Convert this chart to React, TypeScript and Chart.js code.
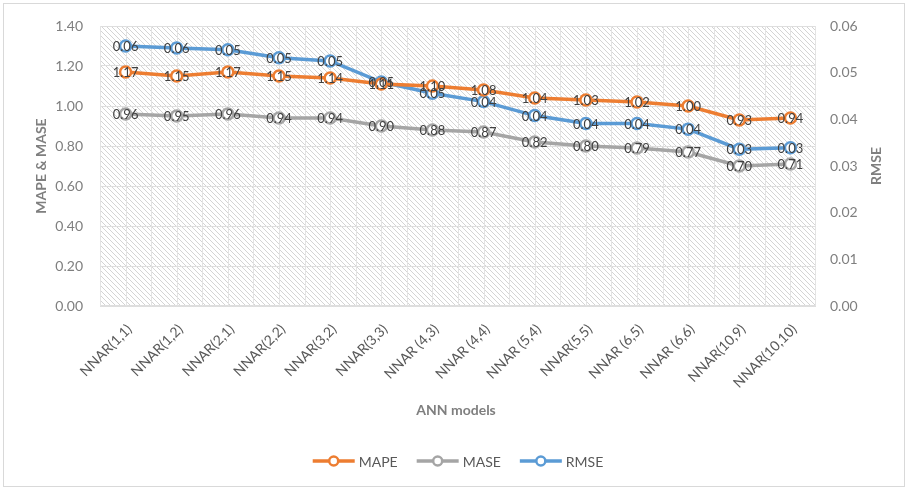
import { useEffect, useRef } from "react";
import { Chart, registerables } from "chart.js";

Chart.register(...registerables);

const categories = [
  "NNAR(1,1)", "NNAR(1,2)", "NNAR(2,1)", "NNAR(2,2)", "NNAR(3,2)", "NNAR(3,3)", "NNAR (4,3)",
  "NNAR (4,4)", "NNAR (5,4)", "NNAR(5,5)", "NNAR (6,5)", "NNAR (6,6)", "NNAR(10,9)", "NNAR(10,10)",
];
const mapeValues = [1.17, 1.15, 1.17, 1.15, 1.14, 1.11, 1.10, 1.08, 1.04, 1.03, 1.02, 1.00, 0.93, 0.94];
const maseValues = [0.96, 0.95, 0.96, 0.94, 0.94, 0.90, 0.88, 0.87, 0.82, 0.80, 0.79, 0.77, 0.70, 0.71];
const rmseValues = [0.0557, 0.0553, 0.0549, 0.0532, 0.0525, 0.048, 0.0456, 0.0438, 0.0408, 0.0391, 0.0391, 0.0379, 0.0336, 0.0339];
const seriesNames = ["MAPE", "MASE", "RMSE"];
const seriesColors = ["#ED7D31", "#A5A5A5", "#5B9BD5"];
const leftTitle = "MAPE & MASE";
const rightTitle = "RMSE";
const xTitle = "ANN models";

const FONT = "Lato, 'Open Sans', sans-serif";

function makePattern(ctx: CanvasRenderingContext2D) {
  const s = 5;
  const c = document.createElement("canvas");
  c.width = s;
  c.height = s;
  const p = c.getContext("2d")!;
  p.fillStyle = "#ffffff";
  p.fillRect(0, 0, s, s);
  p.strokeStyle = "#d4d4d4";
  p.lineWidth = 1;
  p.beginPath();
  p.moveTo(-1, -1);
  p.lineTo(s + 1, s + 1);
  p.moveTo(-1, s - 1);
  p.lineTo(1, s + 1);
  p.moveTo(s - 1, -1);
  p.lineTo(s + 1, 1);
  p.stroke();
  return ctx.createPattern(c, "repeat")!;
}

const decorPlugin = {
  id: "decor",
  beforeDraw(chart: any) {
    const { ctx, chartArea: a, width, height } = chart;
    ctx.save();
    ctx.fillStyle = "#ffffff";
    ctx.fillRect(0, 0, width, height);
    ctx.strokeStyle = "#d9d9d9";
    ctx.lineWidth = 1;
    ctx.strokeRect(3.5, 3.5, width - 7, height - 7);
    ctx.fillStyle = makePattern(ctx);
    ctx.fillRect(a.left, a.top, a.right - a.left, a.bottom - a.top);
    ctx.restore();
  },
  beforeDatasetsDraw(chart: any) {
    const { ctx, chartArea: a, scales } = chart;
    const xs = scales.x;
    const n = categories.length;
    const step = (a.right - a.left) / n;
    ctx.save();
    ctx.strokeStyle = "#e3e3e3";
    ctx.lineWidth = 1;
    ctx.beginPath();
    for (let i = 0; i < n; i++) {
      const c = xs.getPixelForValue(i);
      for (const x of [c - step / 2, c]) {
        const px = Math.round(x) + 0.5;
        ctx.moveTo(px, a.top);
        ctx.lineTo(px, a.bottom);
      }
    }
    const last = Math.round(xs.getPixelForValue(n - 1) + step / 2) - 0.5;
    ctx.moveTo(last, a.top);
    ctx.lineTo(last, a.bottom);
    ctx.stroke();
    ctx.restore();
  },
  afterDatasetsDraw(chart: any) {
    const { ctx } = chart;
    ctx.save();
    ctx.font = `13px ${FONT}`;
    ctx.fillStyle = "#404040";
    ctx.textAlign = "center";
    ctx.textBaseline = "middle";
    chart.data.datasets.forEach((ds: any, di: number) => {
      const meta = chart.getDatasetMeta(di);
      meta.data.forEach((pt: any, i: number) => {
        ctx.fillText(Number(ds.data[i]).toFixed(2), pt.x, pt.y + 1);
      });
    });
    ctx.restore();
  },
  afterDraw(chart: any) {
    const { ctx, chartArea: a } = chart;
    ctx.save();
    ctx.fillStyle = "#7f7f7f";
    ctx.font = `bold 14px ${FONT}`;
    ctx.textAlign = "center";
    ctx.textBaseline = "middle";
    const midY = (a.top + a.bottom) / 2;
    ctx.fillText(xTitle, (a.left + a.right) / 2 - 2, 410);
    ctx.save();
    ctx.translate(41, midY);
    ctx.rotate(-Math.PI / 2);
    ctx.fillText(leftTitle, 0, 0);
    ctx.restore();
    ctx.save();
    ctx.translate(876, midY);
    ctx.rotate(-Math.PI / 2);
    ctx.fillText(rightTitle, 0, 0);
    ctx.restore();

    // legend
    ctx.font = `14px ${FONT}`;
    const lineLen = 42;
    const gapText = 4;
    const gapItem = 19;
    const widths = seriesNames.map((s) => lineLen + gapText + ctx.measureText(s).width);
    const total = widths.reduce((p, c) => p + c, 0) + gapItem * (seriesNames.length - 1);
    let x = 458 - total / 2;
    const y = 461;
    seriesNames.forEach((name, i) => {
      ctx.strokeStyle = seriesColors[i];
      ctx.lineWidth = 3.5;
      ctx.beginPath();
      ctx.moveTo(x, y);
      ctx.lineTo(x + lineLen, y);
      ctx.stroke();
      ctx.beginPath();
      ctx.arc(x + lineLen / 2, y, 4.5, 0, Math.PI * 2);
      ctx.fillStyle = "#ffffff";
      ctx.fill();
      ctx.lineWidth = 2.5;
      ctx.stroke();
      ctx.fillStyle = "#595959";
      ctx.textAlign = "left";
      ctx.fillText(name, x + lineLen + gapText, y + 1);
      x += widths[i] + gapItem;
    });
    ctx.restore();
  },
};

function makeDataset(label: string, data: number[], color: string, axis: string) {
  return {
    label,
    data,
    yAxisID: axis,
    borderColor: color,
    backgroundColor: color,
    borderWidth: 3.5,
    pointRadius: 5.5,
    pointHoverRadius: 5.5,
    pointBorderWidth: 2.5,
    pointBackgroundColor: "#ffffff",
    pointBorderColor: color,
    tension: 0,
  };
}

export default function App() {
  const ref = useRef<HTMLCanvasElement | null>(null);
  useEffect(() => {
    document.body.style.margin = "0";
    const canvas = ref.current!;
    const chart = new Chart(canvas, {
      type: "line",
      data: {
        labels: categories,
        datasets: [
          makeDataset(seriesNames[0], mapeValues, seriesColors[0], "y"),
          makeDataset(seriesNames[1], maseValues, seriesColors[1], "y"),
          makeDataset(seriesNames[2], rmseValues, seriesColors[2], "y1"),
        ],
      },
      options: {
        animation: false,
        responsive: false,
        devicePixelRatio: 1,
        layout: { padding: { top: 26, left: 0, right: 0, bottom: 0 } },
        plugins: {
          legend: { display: false },
          tooltip: { enabled: false },
        },
        scales: {
          x: {
            offset: true,
            grid: { display: false },
            border: { display: false },
            ticks: {
              autoSkip: false,
              maxRotation: 45,
              minRotation: 45,
              padding: 7,
              labelOffset: 4,
              color: "#595959",
              font: { family: FONT, size: 14 },
            },
            afterFit(scale: any) {
              scale.height = 184;
            },
          },
          y: {
            position: "left",
            min: 0,
            max: 1.4,
            grid: {
              color: "#dedede",
              lineWidth: (c: any) => (c.tick && c.tick.value === 0 ? 2 : 1),
              drawTicks: false,
            },
            border: { display: false },
            ticks: {
              stepSize: 0.2,
              padding: 17,
              color: "#7f7f7f",
              font: { family: FONT, size: 14 },
              callback: (v: any) => Number(v).toFixed(2),
            },
            afterFit(scale: any) {
              scale.width = 100;
            },
          },
          y1: {
            position: "right",
            min: 0,
            max: 0.06,
            grid: { display: false, drawTicks: false },
            border: { display: false },
            ticks: {
              stepSize: 0.01,
              padding: 14,
              color: "#7f7f7f",
              font: { family: FONT, size: 14 },
              callback: (v: any) => Number(v).toFixed(2),
            },
            afterFit(scale: any) {
              scale.width = 92;
            },
          },
        },
      },
      plugins: [decorPlugin],
    } as any);
    return () => chart.destroy();
  }, []);
  return (
    <div style={{ width: 908, height: 490 }}>
      <canvas ref={ref} width={908} height={490} style={{ width: 908, height: 490, display: "block" }} />
    </div>
  );
}
